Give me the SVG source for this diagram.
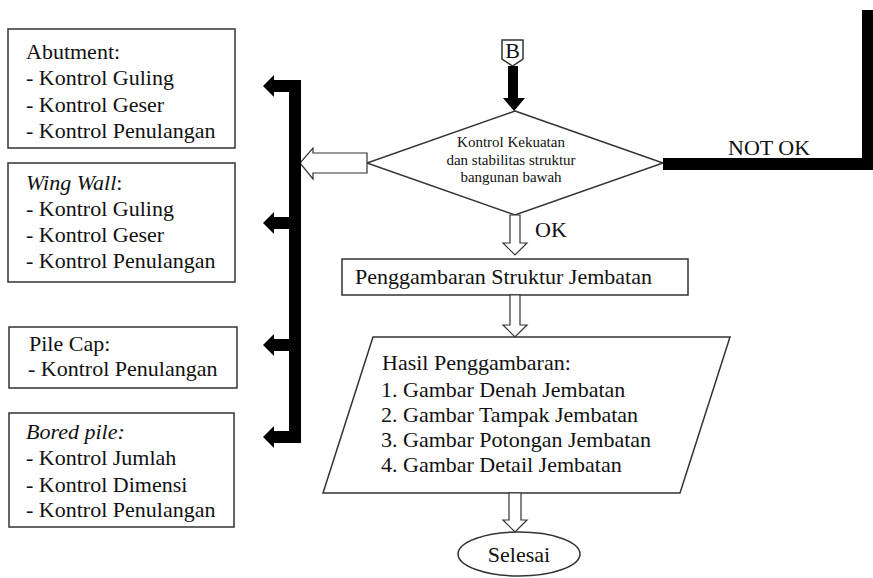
<svg xmlns="http://www.w3.org/2000/svg" width="873" height="578" viewBox="0 0 873 578">
<style>
.box{fill:#fff;stroke:#333;stroke-width:1.5}
.t{font-family:"Liberation Serif","Times New Roman",Times,serif;font-size:22px;fill:#111}
.s{font-family:"Liberation Serif","Times New Roman",Times,serif;font-size:15px;fill:#111}
.hollow{fill:#fff;stroke:#333;stroke-width:1.2}
.solid{fill:#000;stroke:none}
</style>
<rect width="873" height="578" fill="#fff"/>

<g id="abutment">
<rect class="box" x="8" y="29" width="227" height="119"/>
<text class="t" x="26" y="59">Abutment:</text>
<text class="t" x="26" y="85">- Kontrol Guling</text>
<text class="t" x="26" y="112">- Kontrol Geser</text>
<text class="t" x="26" y="138">- Kontrol Penulangan</text>
</g>

<g id="wingwall">
<rect class="box" x="8" y="163" width="227" height="119"/>
<text class="t" x="26" y="190"><tspan font-style="italic">Wing Wall</tspan>:</text>
<text class="t" x="26" y="216">- Kontrol Guling</text>
<text class="t" x="26" y="242">- Kontrol Geser</text>
<text class="t" x="26" y="268">- Kontrol Penulangan</text>
</g>

<g id="pilecap">
<rect class="box" x="9" y="327" width="228" height="61"/>
<text class="t" x="29" y="351">Pile Cap:</text>
<text class="t" x="28" y="376">- Kontrol Penulangan</text>
</g>

<g id="boredpile">
<rect class="box" x="9" y="413" width="225" height="114"/>
<text class="t" x="26" y="439" font-style="italic">Bored pile:</text>
<text class="t" x="26" y="465">- Kontrol Jumlah</text>
<text class="t" x="26" y="492">- Kontrol Dimensi</text>
<text class="t" x="26" y="517">- Kontrol Penulangan</text>
</g>

<g id="connectorB">
<polygon class="box" points="502,40 523,40 523,59 512.5,66 502,59"/>
<text class="t" x="512.5" y="58" text-anchor="middle" font-size="18">B</text>
</g>

<g id="decision">
<polygon class="box" points="515,111 663,163 515,215 367,163"/>
<text class="s" x="511" y="147" text-anchor="middle">Kontrol Kekuatan</text>
<text class="s" x="511" y="165" text-anchor="middle">dan stabilitas struktur</text>
<text class="s" x="511" y="182" text-anchor="middle">bangunan bawah</text>
</g>

<g id="penggambaran">
<rect class="box" x="342" y="259" width="346" height="36"/>
<text class="t" x="355" y="284">Penggambaran Struktur Jembatan</text>
</g>

<g id="hasil">
<polygon class="box" points="373,337 730,337 680,493 323,493"/>
<text class="t" x="382" y="370">Hasil Penggambaran:</text>
<text class="t" x="381" y="397">1. Gambar Denah Jembatan</text>
<text class="t" x="381" y="422">2. Gambar Tampak Jembatan</text>
<text class="t" x="381" y="447">3. Gambar Potongan Jembatan</text>
<text class="t" x="381" y="472">4. Gambar Detail Jembatan</text>
</g>

<g id="selesai">
<ellipse class="box" cx="519" cy="554" rx="61" ry="22"/>
<text class="t" x="519" y="562" text-anchor="middle">Selesai</text>
</g>

<g id="connectors">
<rect class="solid" x="508" y="66" width="10" height="33"/>
<polygon class="solid" points="503,98 525,98 514,111"/>
<rect class="solid" x="663" y="158" width="210" height="12"/>
<rect class="solid" x="862" y="10" width="11" height="160"/>
<text class="t" x="728" y="155">NOT OK</text>
<polygon class="hollow" points="367,153 313,153 313,148 300,163 313,179 313,173 367,173"/>
<rect class="solid" x="289" y="80" width="12" height="363"/>
<rect class="solid" x="272" y="80" width="20" height="12"/>
<polygon class="solid" points="274,75 263,86 274,97"/>
<rect class="solid" x="272" y="217" width="20" height="12"/>
<polygon class="solid" points="274,212 263,223 274,234"/>
<rect class="solid" x="272" y="339" width="20" height="12"/>
<polygon class="solid" points="274,334 263,345 274,356"/>
<rect class="solid" x="272" y="431" width="20" height="12"/>
<polygon class="solid" points="274,426 263,437 274,448"/>
<polygon class="hollow" points="510,215 520,215 520,243 527,243 515,255 503,243 510,243"/>
<text class="t" x="535" y="237">OK</text>
<polygon class="hollow" points="510,295 520,295 520,325 527,325 515,337 503,325 510,325"/>
<polygon class="hollow" points="509,493 521,493 521,520 527,520 515,532 503,520 509,520"/>
</g>
</svg>
